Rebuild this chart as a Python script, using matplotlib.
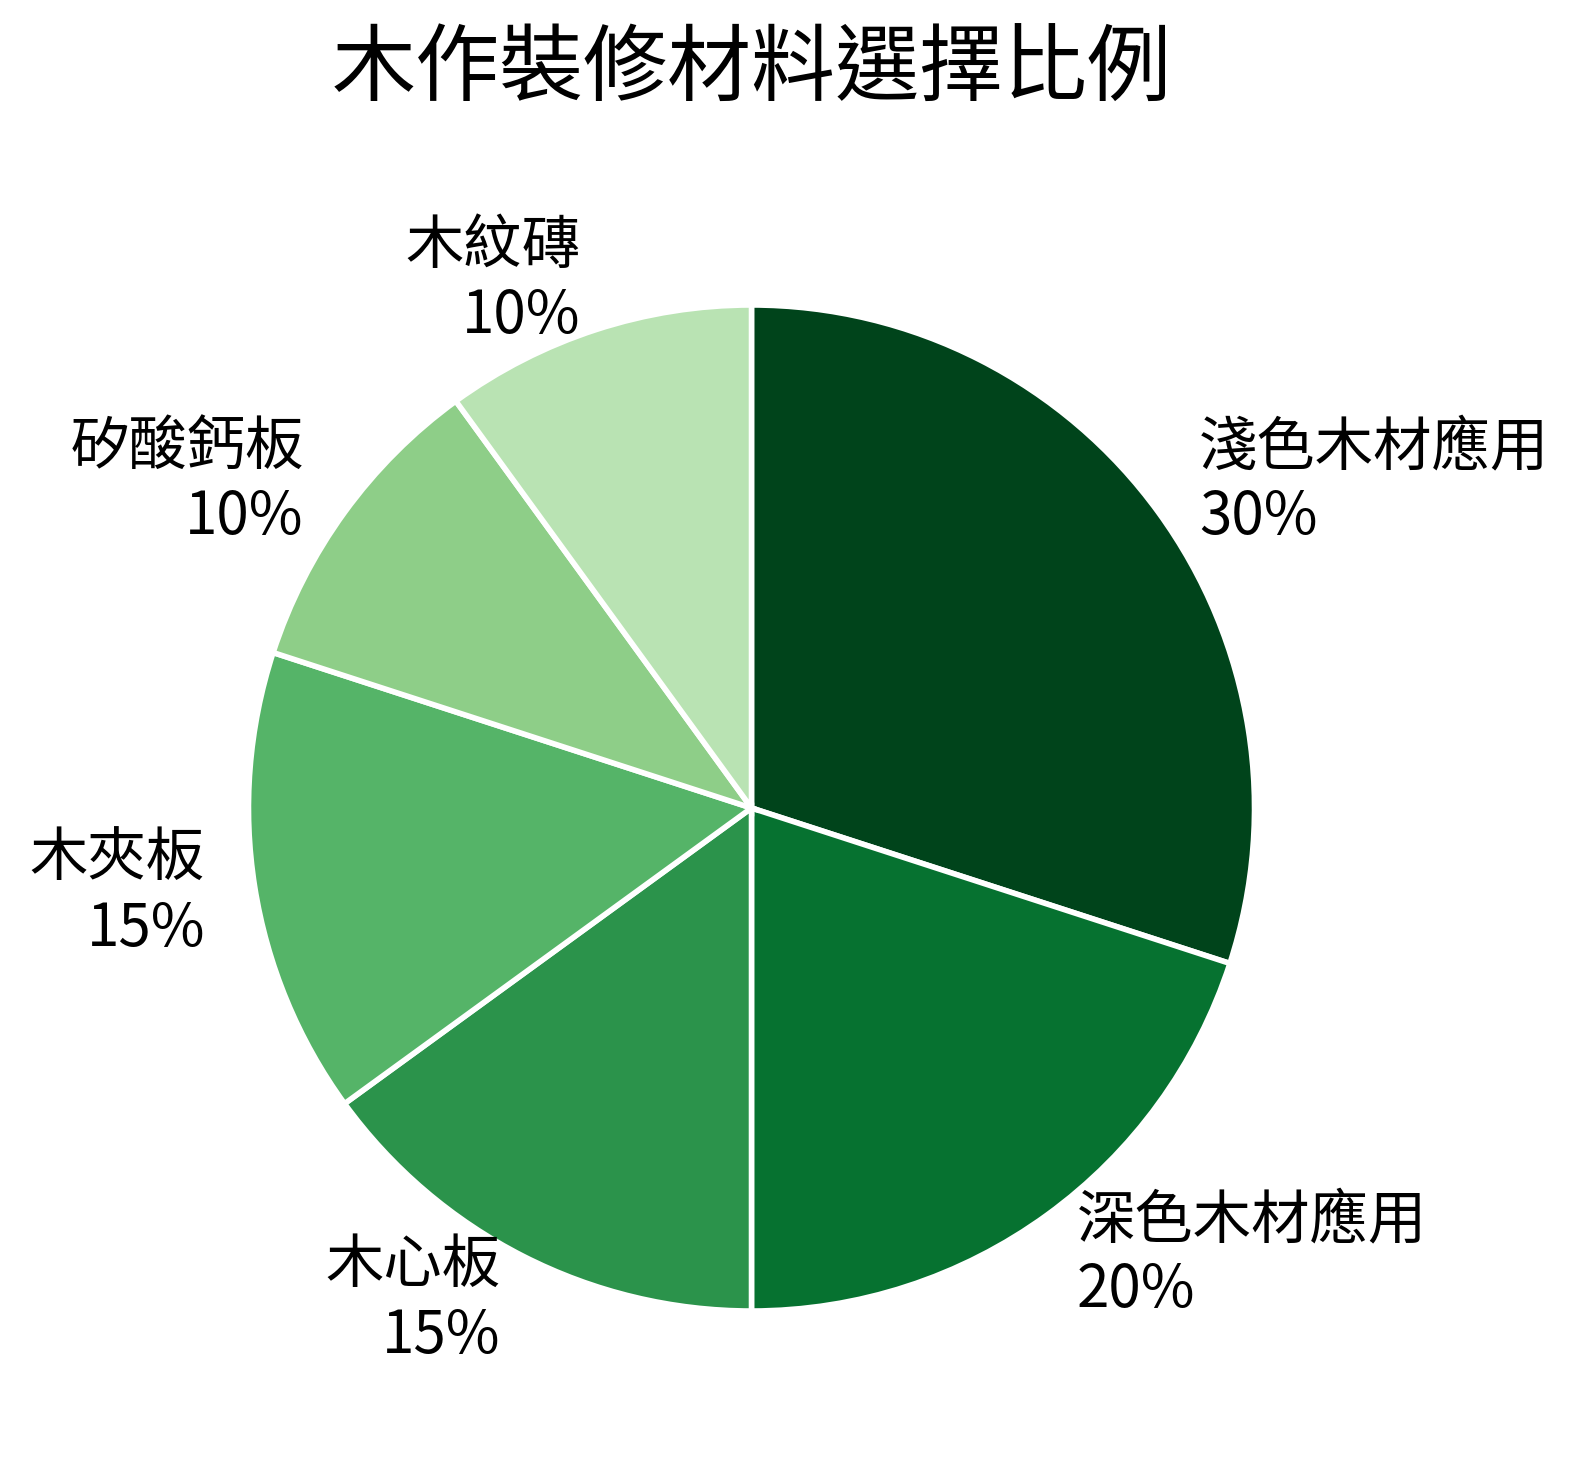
import matplotlib
matplotlib.use("Agg")
import matplotlib.pyplot as plt
import numpy as np

plt.rcParams['font.family'] = ['Noto Sans CJK TC', 'DejaVu Sans']

# data
labels = ['淺色木材應用', '深色木材應用', '木心板', '木夾板', '矽酸鈣板', '木紋磚']
shares = [30, 20, 15, 15, 10, 10]
colors = ['#00441b', '#067230', '#2b934b', '#55b468', '#8ece88', '#b9e3b3']

W, H = 1579, 1468
fig = plt.figure(figsize=(W / 100, H / 100), dpi=100)
fig.set_facecolor('white')

# pie centre and radius in pixels
cx, cy, R = 751.5, 808, 503
ax = fig.add_axes([(cx - R) / W, (H - cy - R) / H, 2 * R / W, 2 * R / H])
wedges, _ = ax.pie(shares, colors=colors, startangle=90, counterclock=False, radius=1,
                   wedgeprops=dict(edgecolor='white', linewidth=4))
ax.set_xlim(-1, 1)
ax.set_ylim(-1, 1)
ax.set_aspect('equal')
ax.axis('off')

# labels outside each slice
for w, lab, v in zip(wedges, labels, shares):
    ang = np.deg2rad((w.theta1 + w.theta2) / 2)
    x, y = 1.1 * np.cos(ang), 1.1 * np.sin(ang)
    ha = 'left' if x > 0 else 'right'
    ax.text(x, y, f"{lab}\n{v}%", ha=ha, va='center', fontsize=42,
            linespacing=1.2, clip_on=False)

fig.text(752 / W, 1 - 71 / H, '木作裝修材料選擇比例', ha='center', va='center', fontsize=60.5)

fig.savefig('out.png', dpi=100)
